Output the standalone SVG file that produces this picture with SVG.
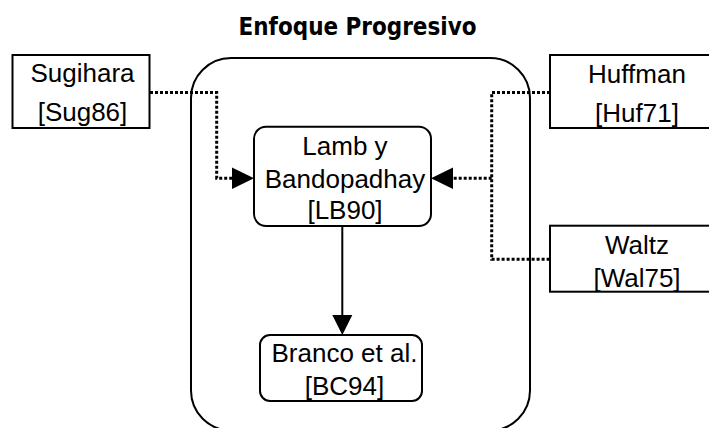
<svg xmlns="http://www.w3.org/2000/svg" width="709" height="428" viewBox="0 0 709 428">
<style>
.box{fill:#fff;stroke:#000;stroke-width:2}
.t{font-family:"Liberation Sans",Arial,sans-serif;font-size:26px;text-anchor:middle;fill:#000}
.dot{fill:none;stroke:#000;stroke-width:3;stroke-dasharray:3 2}
.sol{fill:none;stroke:#000;stroke-width:2}
.title{font-family:"DejaVu Sans",sans-serif;font-weight:bold;font-size:24px;text-anchor:middle;fill:#000}
</style>
<rect width="709" height="428" fill="#fff"/>
<text class="title" x="357.5" y="35" textLength="238" lengthAdjust="spacingAndGlyphs">Enfoque Progresivo</text>
<g id="container">
<rect x="191" y="58" width="339" height="372.5" rx="40" ry="40" fill="none" stroke="#000" stroke-width="2"/>
</g>
<g id="connectors">
<polyline class="dot" points="150,92.5 216.7,92.5 216.7,178.3 232,178.3"/>
<polygon points="232,167.5 254,178.3 232,189" fill="#000"/>
<polyline class="dot" points="550,92.5 491.7,92.5 491.7,259.3 550,259.3"/>
<polyline class="dot" points="491.7,178.3 453,178.3"/>
<polygon points="453,167.5 431,178.3 453,189" fill="#000"/>
<line class="sol" x1="342.3" y1="226" x2="342.3" y2="316"/>
<polygon points="332.3,315 352.3,315 342.3,335" fill="#000"/>
</g>
<g id="sugihara">
<rect class="box" x="12.5" y="55" width="137" height="73"/>
<text class="t" x="82.5" y="82">Sugihara</text>
<text class="t" x="82.5" y="121">[Sug86]</text>
</g>
<g id="huffman">
<rect class="box" x="550" y="55" width="174" height="73"/>
<text class="t" x="637" y="83">Huffman</text>
<text class="t" x="637" y="122">[Huf71]</text>
</g>
<g id="waltz">
<rect class="box" x="550" y="225.7" width="174" height="66"/>
<text class="t" x="637" y="253.5">Waltz</text>
<text class="t" x="637" y="287">[Wal75]</text>
</g>
<g id="lamb">
<rect class="box" x="254" y="126.7" width="177" height="99.3" rx="12" ry="12"/>
<text class="t" x="345" y="155">Lamb y</text>
<text class="t" x="345" y="188">Bandopadhay</text>
<text class="t" x="345" y="219">[LB90]</text>
</g>
<g id="branco">
<rect class="box" x="260" y="335" width="162" height="66" rx="10" ry="10"/>
<text class="t" x="344.5" y="362">Branco et al.</text>
<text class="t" x="344.5" y="394.5">[BC94]</text>
</g>
</svg>
